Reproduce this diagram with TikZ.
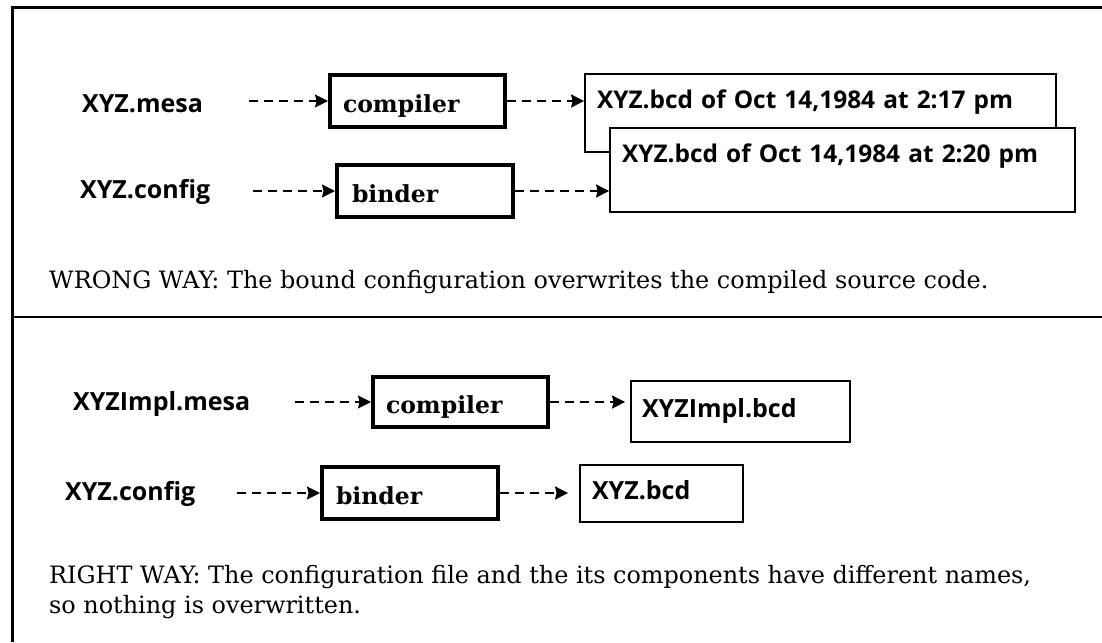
\documentclass[tikz,border=0pt]{standalone}
\usepackage{fontspec}
\setmainfont{DejaVu Serif}
\newfontfamily\labfont{Open Sans}
\usetikzlibrary{arrows.meta,calc}

\tikzset{
  lab/.style={anchor=base west, inner sep=0pt, font=\labfont\bfseries\fontsize{25}{28}\selectfont},
  tool/.style={draw, line width=4pt, fill=white, align=left, inner ysep=0pt,
    font=\bfseries\fontsize{23.5}{28}\selectfont, text height=22pt, text depth=0pt},
  file/.style={draw, line width=1.8pt, fill=white, align=left, inner ysep=0pt,
    font=\labfont\bfseries\fontsize{25}{28}\selectfont},
  bigfile/.style={file, font=\labfont\bfseries\fontsize{24.4}{28}\selectfont},
  note/.style={anchor=base west, inner sep=0pt, font=\fontsize{23.9}{30}\selectfont},
  flow/.style={line width=1.8pt, dash pattern=on 9pt off 6pt,
    -{Stealth[length=13pt,width=13pt,inset=1.5pt]}},
  rule/.style={line width=3pt}
}

\begin{document}
\begin{tikzpicture}[x=1pt,y=-1pt]
\useasboundingbox (0,0) rectangle (1102,642);

% frame and divider
\draw[rule] (12,642) -- (12,8) -- (1102,8);
\draw[line width=2.2pt] (12,317) -- (1102,317);

% ---- upper panel: both outputs land on the same file
\node[lab] (mesa) at (82,112) {XYZ.mesa};
\node[lab] (cfg1) at (80,198) {XYZ.config};

\node[tool, minimum width=175pt, minimum height=52pt, text width=149pt] (comp1) at (417.5,101) {compiler};
\node[tool, minimum width=176pt, minimum height=52pt, text width=146pt] (bind1) at (425,191) {binder};

\node[bigfile, minimum width=471pt, minimum height=78pt, text width=447pt,
      text height=16pt, text depth=26pt] (old) at (820.5,113) {XYZ.bcd of Oct 14,1984 at 2:17 pm};
\node[bigfile, minimum width=465pt, minimum height=84pt, text width=441pt,
      text height=16pt, text depth=32pt] (new) at (842.5,170) {XYZ.bcd of Oct 14,1984 at 2:20 pm};

\draw[flow, shorten <=46pt] (mesa.east |- comp1.west) -- (comp1.west);
\draw[flow, shorten <=43pt] (cfg1.east |- bind1.west) -- (bind1.west);
\draw[flow] (comp1.east) -- (comp1.east -| old.west);
\draw[flow] (bind1.east) -- (bind1.east -| new.west);

\node[note] (wrong) at (49,288) {WRONG WAY: The bound configuration overwrites the compiled source code.};

% ---- lower panel: distinct output names
\node[lab] (impl) at (73,410) {XYZImpl.mesa};
\node[lab] (cfg2) at (65,500) {XYZ.config};

\node[tool, minimum width=175pt, minimum height=50pt, text width=149pt] (comp2) at (460.5,402) {compiler};
\node[tool, minimum width=176pt, minimum height=52pt, text width=148pt] (bind2) at (410,493) {binder};

\node[file, minimum width=219pt, minimum height=61pt, text width=197pt,
      text height=12pt, text depth=0pt] (implbcd) at (740.5,411.5) {XYZImpl.bcd};
\node[file, minimum width=163pt, minimum height=57pt, text width=139pt,
      text height=12pt, text depth=0pt] (bcd) at (661.5,493.5) {XYZ.bcd};

\draw[flow, shorten <=45pt] (impl.east |- comp2.west) -- (comp2.west);
\draw[flow, shorten <=42pt] (cfg2.east |- bind2.west) -- (bind2.west);
\draw[flow, shorten >=5pt] (comp2.east) -- (comp2.east -| implbcd.west);
\draw[flow, shorten >=11pt] (bind2.east) -- (bind2.east -| bcd.west);

\node[note] (right1) at (49,583) {RIGHT WAY: The configuration file and the its components have different names,};
\node[note] (right2) at ([yshift=-30pt]right1.base west) {so nothing is overwritten.};
\end{tikzpicture}
\end{document}
